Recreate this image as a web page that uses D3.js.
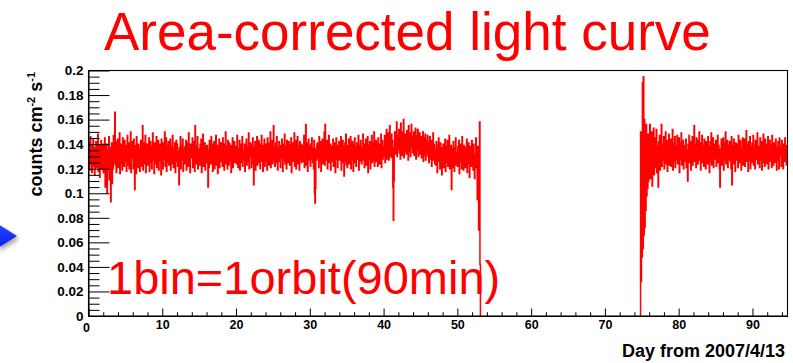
<!DOCTYPE html>
<html>
<head>
<meta charset="utf-8">
<script src="https://cdn.jsdelivr.net/npm/d3@7"></script>
<style>
  html, body { margin: 0; padding: 0; background: #fff; }
  svg { display: block; }
</style>
</head>
<body>
<svg id="chart" width="793" height="363"></svg>
<script>
// Light curve binned by orbit: one bin = 90 min = 1/16 day.
const binDays = 1 / 16;
// Day of the first bin of each observing run.
const runStart = [0, 74.83];

// Rates per orbit bin, in units of 1e-3 counts cm^-2 s^-1 (one row per day).
const rateRunA = [
  128,141,119,135,146,124,131,117,139,127,144,122,133,115,137,129,
  142,121,134,126,148,118,130,139,113,136,125,143,120,132,127,140,
  117,138,124,145,105,131,122,140,100,128,135,119,146,111,126,137,
  93,129,141,108,134,120,147,125,138,166,123,142,117,133,128,144,
  121,136,127,149,116,131,140,124,135,119,145,128,137,122,143,130,
  126,139,118,134,147,123,132,141,120,137,125,150,117,133,129,142,
  135,120,144,128,103,131,139,116,146,125,134,121,140,127,136,118,
  130,143,122,138,126,155,119,135,141,124,132,147,117,137,128,140,
  123,136,131,145,118,129,142,125,138,120,134,149,127,133,116,141,
  138,124,130,146,121,135,127,143,119,132,140,126,137,115,144,129,
  133,120,141,128,136,150,122,131,145,118,139,125,134,142,123,137,
  127,144,119,132,138,124,147,130,121,136,128,141,117,135,143,126,
  140,122,134,129,107,137,125,146,120,133,139,127,144,118,131,136,
  124,138,130,143,119,135,128,141,122,149,126,134,117,140,132,137,
  129,145,121,136,127,142,118,155,133,124,139,131,146,120,135,128,
  136,123,140,130,144,117,134,126,148,122,137,129,141,119,133,138,
  125,139,128,105,135,121,143,131,138,124,146,127,134,118,140,130,
  142,120,135,127,147,123,132,139,116,136,129,144,121,137,126,141,
  131,137,122,145,128,134,119,140,126,150,124,133,138,120,143,127,
  123,141,133,126,139,117,136,129,145,121,135,128,142,125,137,132,
  138,124,147,130,121,136,127,143,119,134,140,125,131,146,122,135,
  127,133,140,118,137,129,144,123,132,138,126,149,120,136,130,141,
  134,121,139,128,145,124,107,137,131,142,119,135,127,146,123,138,
  129,143,125,136,120,140,132,147,126,133,118,139,130,144,122,135,
  140,126,134,119,145,131,137,123,141,128,150,121,136,129,143,124,
  132,155,127,138,122,135,141,125,146,130,119,137,133,142,126,139,
  121,136,129,144,133,118,140,127,135,148,124,131,138,120,143,128,
  137,125,142,130,123,139,134,145,117,132,128,141,126,136,149,122,
  130,143,120,135,128,146,124,138,131,119,142,127,134,140,125,137,
  126,139,133,147,121,136,129,156,123,135,141,118,132,144,127,138,
  134,122,140,128,145,131,125,137,120,143,100,92,104,136,127,139,
  141,129,135,121,146,133,126,142,118,138,130,144,124,137,128,150,
  123,156,131,139,127,143,120,136,132,147,125,134,140,119,137,129,
  138,126,144,122,135,130,141,117,133,145,128,136,121,139,131,142,
  127,140,132,146,119,136,125,143,130,138,114,134,141,126,148,123,
  135,121,139,129,144,124,137,131,146,120,133,127,142,136,118,140,
  130,145,125,138,122,134,141,128,136,147,119,132,139,126,143,131,
  124,137,133,148,127,140,121,135,129,144,123,138,131,146,117,136,
  139,128,142,120,136,131,147,125,134,141,127,150,122,137,130,143,
  126,141,134,122,145,129,138,124,140,133,148,121,136,143,128,135,
  138,131,147,125,142,136,152,128,144,133,149,127,140,155,130,146,
  135,148,129,143,105,78,110,137,150,132,145,139,158,130,147,136,
  141,152,133,146,128,157,138,144,131,150,136,160,129,143,148,134,
  145,132,151,138,147,127,155,140,134,149,130,143,156,137,146,133,
  139,150,131,144,136,153,128,147,141,135,152,130,145,138,149,132,
  137,146,129,142,134,150,126,140,145,131,148,127,139,143,133,147,
  130,141,125,138,146,128,135,143,122,137,132,149,127,140,134,124,
  136,123,142,129,117,139,131,145,126,134,120,141,128,137,115,133,
  127,140,121,135,130,144,118,132,138,125,143,122,136,129,147,120,
  134,124,139,103,128,136,121,142,130,118,137,126,145,123,133,129,
  122,138,128,143,116,134,125,140,131,120,146,127,135,119,139,130,
  137,121,133,128,144,117,136,124,141,129,113,138,126,134,122,143,
  125,135,119,140,130,112,132,127,145,121,136,95,138,118,70,134,
  158,42
];

const rateRunB = [
  150,28,132,48,190,55,195,66,160,72,150,86,156,98,146,104,
  148,110,141,118,156,112,139,125,150,106,144,120,153,115,137,128,
  145,121,152,117,138,130,105,142,124,147,119,135,130,156,122,140,
  133,127,146,120,138,131,150,124,136,143,118,140,129,148,123,137,
  131,144,122,139,127,152,119,135,141,126,146,121,133,138,128,147,
  124,136,130,145,117,141,128,134,149,123,137,131,143,120,139,126,
  138,129,144,121,135,127,110,140,132,147,125,136,142,119,134,130,
  146,123,137,131,155,126,140,134,121,145,128,138,124,143,133,150,
  127,141,119,136,130,147,125,139,133,122,144,129,137,120,142,135,
  131,124,146,128,138,117,134,142,126,149,123,137,130,145,121,136,
  140,128,135,143,122,137,131,147,125,139,133,120,105,136,129,144,
  123,138,132,145,119,134,141,127,150,124,136,130,143,121,139,128,
  135,142,126,137,120,146,107,131,139,124,144,129,136,118,141,132,
  127,140,133,121,147,130,138,125,143,134,119,137,128,145,123,139,
  131,144,122,136,129,151,126,140,133,118,142,135,127,146,120,138,
  136,125,141,130,147,123,134,139,120,143,128,137,132,149,124,135,
  129,138,121,145,133,127,142,119,136,131,148,125,139,122,144,130,
  140,124,137,131,146,120,135,128,143,126,139,133,121,147,129,136,
  123,141,130,138,125,144,132,119,137,127,142,134,120,145,131,138,
  134,122,143,129,136,120,140,131,126,145,128,137,123,139,132
];

const xTickValues = [0, 10, 20, 30, 40, 50, 60, 70, 80, 90];
const xTickLabels = ["0", "10", "20", "30", "40", "50", "60", "70", "80", "90"];
const yTickValues = [0, 0.02, 0.04, 0.06, 0.08, 0.1, 0.12, 0.14, 0.16, 0.18, 0.2];
const yTickLabels = ["0", "0.02", "0.04", "0.06", "0.08", "0.1", "0.12", "0.14", "0.16", "0.18", "0.2"];

const titleText = "Area-corrected light curve";
const binNote = "1bin=1orbit(90min)";
const xTitle = "Day from 2007/4/13";

// ---- layout ----
const plot = { left: 88.5, right: 787.5, top: 70.5, bottom: 316 };
const svg = d3.select("#chart");
const font = "'Liberation Sans', Arial, Helvetica, sans-serif";

const x = d3.scaleLinear().domain([0, 94.75]).range([plot.left, plot.right]);
const y = d3.scaleLinear().domain([0, 0.2]).range([plot.bottom, plot.top]);

// pointer arrow at the left margin
const defs = svg.append("defs");
const shadow = defs.append("filter").attr("id", "arrowShadow")
  .attr("x", "-50%").attr("y", "-50%").attr("width", "220%").attr("height", "220%");
shadow.append("feDropShadow").attr("dx", 2).attr("dy", 3).attr("stdDeviation", 2)
  .attr("flood-color", "#000").attr("flood-opacity", 0.35);
const grad = defs.append("linearGradient").attr("id", "arrowFill")
  .attr("x1", 0).attr("y1", 0).attr("x2", 0).attr("y2", 1);
grad.append("stop").attr("offset", "0%").attr("stop-color", "#2448ff");
grad.append("stop").attr("offset", "100%").attr("stop-color", "#0a1ef0");
svg.append("path")
  .attr("d", "M-2,224 L17,236 L-2,248 Z")
  .attr("fill", "url(#arrowFill)")
  .attr("filter", "url(#arrowShadow)");

// clip for the histogram
defs.append("clipPath").attr("id", "plotClip")
  .append("rect")
  .attr("x", plot.left).attr("y", plot.top - 1)
  .attr("width", plot.right - plot.left).attr("height", plot.bottom - plot.top + 1);

// ---- histogram outline per observing run ----
function runPoints(start, values) {
  const pts = values.map((v, i) => ({ day: start + i * binDays, rate: v / 1000 }));
  pts.push({ day: start + values.length * binDays, rate: values[values.length - 1] / 1000 });
  return pts;
}
const ptsA = runPoints(runStart[0], rateRunA);
ptsA.push({ day: ptsA[ptsA.length - 1].day, rate: 0 });
const ptsB = runPoints(runStart[1], rateRunB);
ptsB.unshift({ day: runStart[1], rate: 0 });

const stepLine = d3.line()
  .x(d => x(d.day))
  .y(d => y(d.rate))
  .curve(d3.curveStepAfter);

const hist = svg.append("g").attr("clip-path", "url(#plotClip)");
[ptsA, ptsB].forEach(pts => {
  hist.append("path")
    .attr("d", stepLine(pts))
    .attr("fill", "none")
    .attr("stroke", "#ff0000")
    .attr("stroke-width", 1.5);
});

// ---- axes ----
const yMinor = d3.range(0, 41).map(i => i * 0.005).filter(v => Math.round(v * 1000) % 20 !== 0);
const xMinor = d3.range(0, 48).map(i => i * 2).filter(v => v % 10 !== 0 && v <= 94.75);

const yAxis = svg.append("g").attr("transform", `translate(${plot.left},0)`)
  .call(d3.axisLeft(y).tickValues(yTickValues)
    .tickFormat((d, i) => yTickLabels[i])
    .tickSizeInner(-21).tickSizeOuter(0).tickPadding(5));
svg.append("g").attr("transform", `translate(${plot.left},0)`)
  .call(d3.axisLeft(y).tickValues(yMinor).tickFormat("")
    .tickSizeInner(-11).tickSizeOuter(0))
  .call(g => g.select(".domain").remove());

const xAxis = svg.append("g").attr("transform", `translate(0,${plot.bottom})`)
  .call(d3.axisBottom(x).tickValues(xTickValues)
    .tickFormat((d, i) => xTickLabels[i])
    .tickSizeInner(-7.5).tickSizeOuter(0).tickPadding(4.5));
svg.append("g").attr("transform", `translate(0,${plot.bottom})`)
  .call(d3.axisBottom(x).tickValues(xMinor).tickFormat("")
    .tickSizeInner(-3.8).tickSizeOuter(0))
  .call(g => g.select(".domain").remove());

svg.selectAll(".tick line").attr("stroke", "#000").attr("stroke-width", 1);
svg.selectAll(".tick text")
  .attr("font-family", font).attr("font-weight", "bold")
  .attr("font-size", 12.5).attr("fill", "#000");
yAxis.selectAll(".tick text").attr("font-size", 13.5);
xAxis.selectAll(".tick text").filter((d) => d === 0).attr("dx", -2.5).attr("dy", "0.95em");

// frame
svg.append("rect")
  .attr("x", plot.left).attr("y", plot.top)
  .attr("width", plot.right - plot.left).attr("height", plot.bottom - plot.top)
  .attr("fill", "none").attr("stroke", "#000").attr("stroke-width", 1.1);

// ---- titles ----
svg.append("text")
  .attr("x", 104).attr("y", 50)
  .attr("font-family", font).attr("font-size", 53)
  .attr("fill", "#ff0000")
  .text(titleText);

svg.append("text")
  .attr("x", 107).attr("y", 294)
  .attr("font-family", font).attr("font-size", 47)
  .attr("fill", "#ff0000")
  .text(binNote);

svg.append("text")
  .attr("x", 785).attr("y", 356.5)
  .attr("text-anchor", "end")
  .attr("font-family", font).attr("font-weight", "bold").attr("font-size", 18)
  .attr("fill", "#000")
  .text(xTitle);

const yTitle = svg.append("text")
  .attr("transform", "translate(41.5,72) rotate(-90)")
  .attr("text-anchor", "end")
  .attr("font-family", font).attr("font-weight", "bold").attr("font-size", 18)
  .attr("fill", "#000");
yTitle.append("tspan").text("counts cm");
yTitle.append("tspan").attr("dy", -7).attr("font-size", 11).text("-2");
yTitle.append("tspan").attr("dy", 7).text(" s");
yTitle.append("tspan").attr("dy", -7).attr("font-size", 11).text("-1");
</script>
</body>
</html>
